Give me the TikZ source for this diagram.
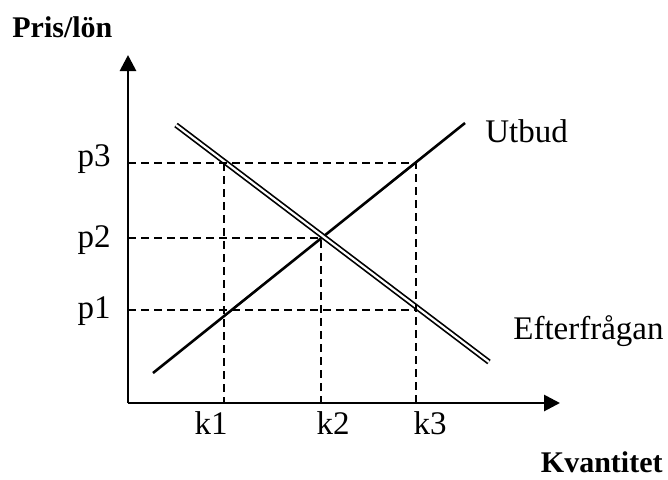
\documentclass[tikz,border=0pt]{standalone}
\usepackage{fontspec}
\setmainfont{Liberation Serif}
\usetikzlibrary{arrows.meta}
\tikzset{
  axis/.style   = {-{Triangle[length=8pt,width=8pt]}, line width=1.4pt},
  supply/.style = {line width=1.3pt},
  demand/.style = {double, line width=0.85pt, double distance=1.1pt},
  guide/.style  = {dash pattern=on 4pt off 2.5pt, line width=0.7pt},
  lbl/.style    = {font=\fontsize{16.5}{19}\selectfont, inner sep=0pt},
  ttl/.style    = {font=\bfseries\fontsize{15}{18}\selectfont, inner sep=0pt},
}

\begin{document}
\begin{tikzpicture}[x=0.5pt, y=-0.5pt]
    \useasboundingbox (0,0) rectangle (668,479);
    % axlar
    \coordinate (o)  at (128,403);
    \coordinate (yt) at (128,55);
    \coordinate (xt) at (560,403);
    \draw[axis] (o) -- (yt);
    \draw[axis] (o) -- (xt);
    \node[ttl, anchor=base west] (ylab) at (12,37) {Pris/lön};
    \node[ttl, anchor=base east] (xlab) at (663,472) {Kvantitet};
    % kurvor
    \coordinate (s1) at (153,373);
    \coordinate (s2) at (465,123);
    \coordinate (d1) at (176,125);
    \coordinate (d2) at (489,362);
    \draw[supply] (s1) -- (s2);
    \draw[demand] (d1) -- (d2);
    \node[lbl, anchor=base west] (sup) at (485,142) {Utbud};
    \node[lbl, anchor=base east] (dem) at (664,339) {Efterfrågan};
    % hjälplinjer
    \coordinate (p1) at (128,310);
    \coordinate (p2) at (128,238);
    \coordinate (p3) at (128,163);
    \coordinate (k1) at (224,403);
    \coordinate (k2) at (321,403);
    \coordinate (k3) at (416,403);
    \draw[guide] (p3) -- (416,163) -- (k3);
    \draw[guide] (p2) -- (321,238) -- (k2);
    \draw[guide] (p1) -- (416,310);
    \draw[guide] (224,163) -- (k1);
    \node[lbl, anchor=base] (lp3) at (94,166) {p3};
    \node[lbl, anchor=base] (lp2) at (94,247) {p2};
    \node[lbl, anchor=base] (lp1) at (94,318) {p1};
    \node[lbl, anchor=base] (lk1) at (211,434) {k1};
    \node[lbl, anchor=base] (lk2) at (333,434) {k2};
    \node[lbl, anchor=base] (lk3) at (430,434) {k3};
\end{tikzpicture}
\end{document}
